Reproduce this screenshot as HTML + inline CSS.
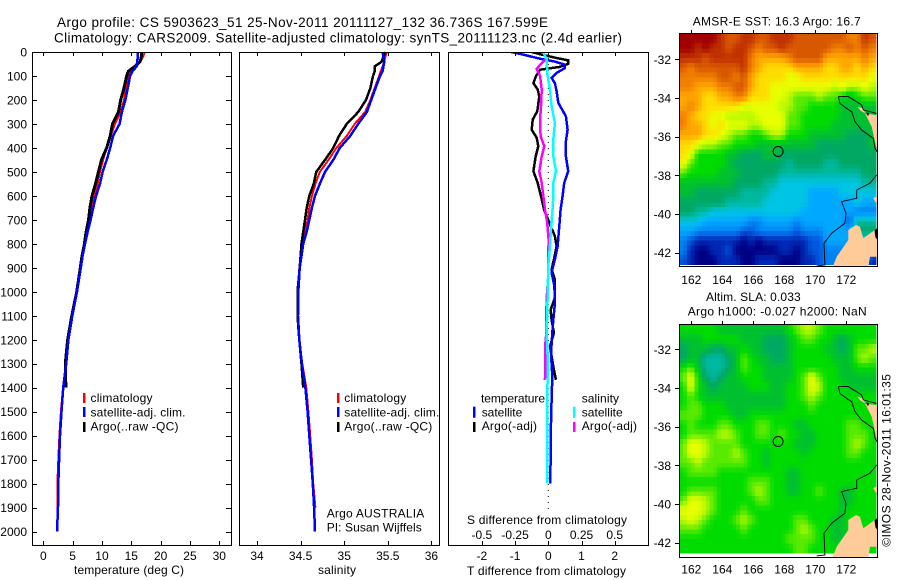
<!DOCTYPE html>
<html>
<head>
<meta charset="utf-8">
<title>Argo profile</title>
<style>
html,body{margin:0;padding:0;background:#fff;width:900px;height:580px;overflow:hidden}
svg{display:block}
text{font-family:"Liberation Sans",sans-serif;font-size:12px;fill:#000}
.t{font-size:13.5px}
</style>
</head>
<body>
<svg id="chart" xmlns="http://www.w3.org/2000/svg" width="900" height="580" viewBox="0 0 900 580">
<defs>
<clipPath id="clip3"><rect x="448" y="52" width="200" height="493"/></clipPath>
<clipPath id="clipSst"><rect x="679" y="34" width="198" height="233"/></clipPath>
<clipPath id="clipSla"><rect x="679" y="325" width="198" height="232"/></clipPath>
</defs>
<rect x="0" y="0" width="900" height="580" fill="#fff"/>
<g id="maps"></g>
<g id="panels"></g>

<text class="t" x="57" y="27" textLength="491">Argo profile: CS 5903623_51 25-Nov-2011 20111127_132 36.736S 167.599E</text>
<text class="t" x="54" y="42.5" textLength="568">Climatology: CARS2009. Satellite-adjusted climatology: synTS_20111123.nc (2.4d earlier)</text>

<text x="74" y="574" textLength="110">temperature (deg C)</text>
<text x="318" y="574" textLength="38">salinity</text>
<text x="467" y="575" textLength="159">T difference from climatology</text>
<text x="467" y="524" textLength="160">S difference from climatology</text>

<g>
<rect x="83" y="393" width="2.5" height="10" fill="#f00"/>
<rect x="83" y="407" width="2.5" height="10" fill="#00f"/>
<rect x="83" y="422" width="2.5" height="10" fill="#000"/>
<text x="90.5" y="402" textLength="62">climatology</text>
<text x="90.5" y="416.5" textLength="95">satellite-adj. clim.</text>
<text x="90.5" y="430.5" textLength="88">Argo(..raw -QC)</text>
</g>
<g>
<rect x="337" y="393" width="2.5" height="10" fill="#f00"/>
<rect x="337" y="407" width="2.5" height="10" fill="#00f"/>
<rect x="337" y="422" width="2.5" height="10" fill="#000"/>
<text x="344.3" y="402" textLength="62">climatology</text>
<text x="344.3" y="416.5" textLength="95">satellite-adj. clim.</text>
<text x="344.3" y="430.5" textLength="88">Argo(..raw -QC)</text>
</g>
<text x="326.7" y="517.3" textLength="97.6">Argo AUSTRALIA</text>
<text x="326.7" y="531.3" textLength="95">PI: Susan Wijffels</text>

<g>
<text x="481" y="402.3" textLength="64">temperature</text>
<text x="481.7" y="416.3" textLength="40.6">satellite</text>
<text x="481.7" y="430" textLength="55.3">Argo(-adj)</text>
<rect x="473" y="406.7" width="2.5" height="11" fill="#00f"/>
<rect x="473" y="422" width="2.5" height="10" fill="#000"/>
<text x="581.7" y="402.3" textLength="37.3">salinity</text>
<text x="581.7" y="416.3" textLength="41">satellite</text>
<text x="581.7" y="430" textLength="55.3">Argo(-adj)</text>
<rect x="573" y="406.7" width="2.5" height="11" fill="#0ff"/>
<rect x="573" y="422" width="2.5" height="10" fill="#f0f"/>
</g>

<text x="692.7" y="25.3" textLength="168">AMSR-E SST: 16.3 Argo: 16.7</text>
<text x="706" y="301" textLength="94.7">Altim. SLA: 0.033</text>
<text x="687.7" y="315.3" textLength="179">Argo h1000: -0.027 h2000: NaN</text>
<text transform="translate(890.7 546.7) rotate(-90)" x="0" y="0" textLength="172.7">©IMOS 28-Nov-2011 16:01:35</text>
</svg>

<script>
// ---- profile data ----
const depths = [0,20,40,60,80,100,150,200,250,300,350,400,450,500,550,600,650,700,750,800,850,900,1000,1100,1200,1300,1400,1500,1600,1700,1800,1900,2000];
const climTemp = [17.3,17.0,16.6,15.6,15.05,14.5,14.1,13.75,13.2,12.2,11.5,10.8,10.2,9.66,9.26,8.75,8.35,7.95,7.55,7.0,6.6,6.25,5.65,4.9,4.2,3.85,3.35,3.0,2.75,2.55,2.4,2.45,null];
const adjTemp = [16.1,16.1,16.0,15.9,15.2,14.8,14.4,14.0,13.4,13.0,11.9,11.4,10.8,10.1,9.66,9.0,8.5,8.07,7.55,7.1,6.7,6.4,5.75,4.95,4.27,3.9,3.4,3.1,2.85,2.7,2.55,2.5,2.33];
const argoTemp = [16.8,16.7,16.5,15.6,14.5,14.2,13.75,13.2,12.8,11.8,11.4,10.8,9.9,9.4,8.9,8.3,7.95,7.7,7.3,7.0,6.6,6.3,5.7,4.85,4.15,3.75,3.85,null,null,null,null,null,null];
const climSal = [35.49,35.47,35.46,35.44,35.42,35.40,35.35,35.30,35.24,35.12,35.03,34.91,34.82,34.72,34.67,34.63,34.60,34.58,34.55,34.52,34.50,34.485,34.47,34.47,34.485,34.52,34.565,34.59,34.61,34.63,34.645,34.67,null];
const adjSal = [35.44,35.45,35.46,35.45,35.44,35.41,35.36,35.31,35.26,35.16,35.07,34.95,34.875,34.78,34.72,34.665,34.63,34.60,34.57,34.53,34.51,34.49,34.474,34.47,34.485,34.515,34.555,34.58,34.60,34.62,34.64,34.655,34.665];
const argoSal = [35.47,35.45,35.43,35.35,35.35,35.33,35.30,35.25,35.16,35.03,34.94,34.875,34.78,34.68,34.65,34.60,34.57,34.55,34.53,34.51,34.50,34.49,34.465,34.465,34.485,34.51,34.53,null,null,null,null,null,null];

const satTDepths = [0,8,28,40,53,67,87,108,130,164,212,268,324,380,435,497,546,601,657,726,810,865,920,976,1025,1048,1117,1172,1256,1353,1450,1548,1800];
const satTDiff = [-1.12,-.85,-.25,.2,.5,.5,.25,.1,.2,.25,.3,.53,.58,.52,.53,.6,.48,.43,.37,.33,.28,.2,.1,.18,.2,.2,.15,.12,.08,.12,.1,.08,.06];
const argoTDepths = [0,11,25,35,49,62,74,100,130,157,185,247,282,324,358,393,435,497,546,601,657,712,768,810,865,907,949,1025,1075,1117,1172,1228,1311,1367];
const argoTDiff = [-.5,-.2,.25,.6,.6,.35,-.25,-.37,-.45,-.32,-.27,-.33,-.47,-.5,-.35,-.3,-.38,-.45,-.32,-.22,-.13,.03,.2,.25,.17,.1,.2,.2,.07,.1,.17,.05,.15,.23];
const satSDepths = [0,32,87,157,226,296,365,435,497,546,601,657,740,810,890,1025,1172,1270,1800];
const satSDiff = [-.038,-.012,-.008,.012,.025,.05,.038,.038,.058,.038,.038,.032,.02,.012,0,-.005,-.012,-.005,-.008];
const argoSDepths = [32,70,100,157,226,282,351,393,435,497,546,601,657,712,782,865,949,1025,1100,1172,1215,1356,1367];
const argoSDiff = [-.025,-.088,-.062,-.05,-.055,-.062,-.058,-.03,-.05,-.068,-.05,-.038,-.025,-.008,.002,0,-.002,-.012,-.015,-.015,-.022,-.022,-.03];

// ---- tick labels ----
const depthTicks = [0,100,200,300,400,500,600,700,800,900,1000,1100,1200,1300,1400,1500,1600,1700,1800,1900,2000];
const tempTicks = [0,5,10,15,20,25,30];
const salTicks = [34,34.5,35,35.5,36];
const tDiffTicks = [-2,-1,0,1,2];
const sDiffTicks = [-0.5,-0.25,0,0.25,0.5];
const latTicks = [-32,-34,-36,-38,-40,-42];
const lonTicks = [162,164,166,168,170,172];

// ---- map data: colour-scale level per cell, north to south, west to east ----
const sstLevels = [
[18,18,18,18,18,17,16,16,17,17,16,16,17,17,17,16,16,16,16,16,16,16,15,15,17,16],
[18,18,17,18,17,17,16,17,17,16,15,16,16,17,16,16,16,16,16,16,15,15,16,15,16,15],
[17,17,17,16,17,17,17,17,17,15,14,14,14,14,15,16,16,16,16,14,14,14,14,14,15,14],
[16,15,16,16,16,16,16,16,17,15,14,13,13,13,13,14,14,14,14,13,13,14,14,13,14,13],
[15,15,15,15,15,16,16,15,16,14,13,13,13,13,12,12,13,13,13,13,13,13,13,13,13,12],
[15,15,14,14,14,15,15,16,16,14,13,13,12,12,12,12,12,12,12,12,11,12,11,11,12,11],
[14,14,14,13,13,14,14,15,15,13,13,13,12,12,11,10,10,10,11,10,10,9,8,9,10,10],
[14,15,14,13,13,13,13,13,12,12,12,12,12,11,11,10,10,9,9,9,9,8,8,8,8,8],
[15,14,13,13,12,12,11,11,11,11,12,12,12,12,10,10,9,9,9,9,9,8,8,8,8,8],
[15,14,14,13,12,13,12,12,12,11,11,12,12,12,10,10,9,9,9,9,8,8,8,8,8,8],
[14,14,14,13,13,12,11,10,10,9,9,10,11,11,9,9,9,8,8,8,8,8,7,7,7,8],
[13,13,12,11,11,10,10,9,9,9,8,8,8,8,8,8,8,8,7,7,7,7,7,7,7,8],
[13,12,9,9,9,9,8,8,7,7,7,8,8,7,7,7,7,7,7,7,7,7,7,7,7,7],
[12,10,9,9,9,9,8,7,7,7,7,7,7,7,6,7,7,7,7,6,6,7,7,7,7,7],
[10,9,9,9,9,8,8,8,7,7,7,7,7,6,6,6,6,6,6,6,6,6,6,6,7,7],
[8,8,8,8,8,8,8,7,7,7,7,6,6,5,5,5,5,5,5,5,5,5,5,5,6,6],
[8,8,7,7,7,7,7,7,6,6,6,6,5,5,5,5,5,4,4,4,4,5,5,5,5,5],
[7,7,7,7,7,7,6,6,6,6,6,5,5,5,5,5,5,4,4,4,4,4,4,5,4,4],
[7,7,6,6,5,5,5,5,5,5,5,5,5,5,5,5,4,4,4,4,4,4,4,3,3,3],
[5,5,5,4,4,4,4,4,4,3,3,4,4,4,4,3,4,4,4,4,4,4,2,6,6,6],
[4,4,3,3,3,3,3,3,2,2,3,3,3,3,3,2,3,3,3,4,4,4,4,7,7,7],
[3,2,1,1,1,1,1,1,0,1,0,1,1,1,1,1,1,2,2,4,4,4,4,4,4,4],
[3,1,0,0,1,1,2,0,0,0,0,0,0,1,1,0,1,2,2,3,3,3,3,3,3,3],
[2,1,0,0,0,1,1,1,0,0,1,1,1,0,0,0,1,1,2,3,3,3,3,3,3,1]
];
const slaLevels = [
[9,9,9,9,9,8,8,8,8,8,8,8,8,8,9,10,11,11,10,9,9,9,9,9,9,9],
[8,8,8,9,9,9,9,9,8,8,8,7,7,7,8,9,10,10,9,9,8,7,8,9,9,9],
[7,8,8,8,7,7,8,8,9,8,8,7,7,7,8,9,9,9,9,8,8,7,8,10,10,11],
[7,8,8,6,6,6,7,8,10,9,8,8,7,7,8,9,9,9,9,9,8,8,8,10,11,10],
[9,10,8,6,6,6,7,8,10,9,9,8,8,8,8,9,9,9,9,9,9,8,8,9,9,9],
[10,12,9,7,6,7,8,8,9,9,9,8,8,8,8,9,10,12,10,9,9,8,8,8,8,8],
[9,12,9,8,7,8,8,8,8,9,9,9,8,8,9,9,10,12,11,9,9,9,8,8,8,8],
[9,10,9,8,8,8,8,8,8,8,8,8,8,8,9,9,10,11,10,9,9,9,9,9,9,9],
[9,10,10,9,9,9,8,8,8,8,8,8,8,8,9,9,9,10,9,9,9,9,9,9,9,9],
[10,10,10,9,9,9,9,8,8,9,9,9,9,9,9,9,9,9,9,9,9,9,9,9,9,9],
[9,10,9,9,9,10,10,9,9,9,10,10,9,9,9,8,8,9,9,9,9,9,10,10,9,9],
[9,10,10,10,10,11,11,10,9,9,10,10,9,10,9,9,8,8,9,9,9,9,10,10,10,9],
[10,12,12,11,10,10,10,10,9,9,9,9,9,9,9,8,8,8,9,9,9,9,10,11,10,9],
[10,12,12,11,10,10,10,11,10,9,9,8,9,9,9,9,8,9,9,9,9,9,10,10,9,9],
[10,10,11,10,10,10,10,10,10,9,9,8,9,9,9,9,9,9,9,9,9,9,9,9,9,9],
[9,10,10,10,10,9,9,9,9,9,9,9,9,9,8,8,9,9,9,9,9,9,9,9,9,9],
[9,9,9,9,9,9,9,9,9,10,10,10,9,9,8,8,9,9,9,9,9,9,9,9,9,9],
[9,10,10,10,10,9,9,9,9,10,11,10,9,9,8,8,9,9,10,9,9,8,8,9,9,9],
[10,12,12,11,10,9,9,9,9,9,10,10,9,9,9,9,9,9,9,9,9,8,8,9,9,9],
[12,12,12,11,10,9,9,9,10,9,9,9,9,9,9,9,9,9,9,9,9,8,9,9,9,9],
[11,12,11,10,9,9,9,10,11,10,9,9,9,9,9,10,10,9,9,9,8,8,9,9,9,9],
[10,10,10,9,9,9,9,9,10,9,9,9,9,9,9,10,11,10,9,9,8,8,9,9,9,9],
[9,9,9,9,9,9,9,9,9,9,9,9,9,9,10,10,10,10,9,9,8,8,8,9,9,9],
[9,9,9,9,9,9,9,9,9,9,9,9,9,9,9,10,10,9,9,9,9,9,9,9,9,9]
];
const levelColors = ["#000084","#0028b4","#0058dc","#0084f4","#00a8ff","#00c4e4","#00b8a0","#00a864","#00c030","#00dc00","#58ea00","#b8f800","#e8ff00","#ffdc00","#ffa800","#f08000","#d85800","#c03000","#a00000"];

// ---- coast geometry as [lon, lat] ----
const coastA = [[171.49,-33.93],[171.59,-34.28],[172.02,-34.54],[172.35,-34.71],[172.56,-35.23],[172.99,-35.66],[173.74,-36.09],[173.85,-36.6],[174,-36.78]];
const coastA2 = [[171.49,-33.93],[172.13,-33.93],[172.99,-34.36],[173.1,-34.62],[173.96,-34.8]];
const coastB = [[170.09,-42.69],[170.62,-42.64],[170.56,-41.52],[171.05,-41],[171.91,-40.48],[171.98,-39.97],[171.7,-39.36],[172.67,-39.19],[172.67,-38.76],[173.53,-38.41],[173.96,-37.98]];
const landSouth = [[171.12,-42.75],[171.38,-42.21],[172.13,-41.35],[172.13,-40.83],[172.63,-40.57],[172.88,-40.66],[173.1,-41.26],[174,-40.74],[174,-42.21],[173.53,-42.21],[173.42,-42.75]];
const landEast = [[173.21,-34.8],[174,-34.9],[174,-36.78],[173.64,-35.48],[173.42,-35.14]];
const landIsland = [[172.71,-34.45],[173.1,-34.54],[173.21,-34.8],[172.93,-34.66]];
const landSmall = [[173.74,-39.19],[174,-39.07],[174,-39.54]];
const darkBitA = [[173.82,-40.85],[174,-40.74],[174,-41.35],[173.88,-41.2]];
const darkBitB = [[173.27,-34.76],[173.5,-34.76],[173.4,-34.95]];
const argoPosition = [167.6,-36.77];

// ---- helpers ----
const NS = "http://www.w3.org/2000/svg";
const panels = document.getElementById("panels");
const maps = document.getElementById("maps");
function mk(tag, parent, attrs) {
  const el = document.createElementNS(NS, tag);
  for (const k in attrs) el.setAttribute(k, attrs[k]);
  parent.appendChild(el);
  return el;
}
function yDepth(d) { return 52 + d * 0.2398; }
function xTemp(v) { return 43.3 + v * 5.867; }
function xSal(v) { return 257 + (v - 34) * 87.2; }
function xT(v) { return 548.3 + v * 33.2; }
function xS(v) { return 548.3 + v * 132.8; }
function linePoints(xf, ds, vs) {
  const p = [];
  for (let i = 0; i < vs.length; i++) {
    if (vs[i] === null) continue;
    p.push(xf(vs[i]).toFixed(1) + "," + yDepth(ds[i]).toFixed(1));
  }
  return p.join(" ");
}
function series(xf, ds, vs, color, w, name, clip) {
  const el = mk("polyline", panels, {points: linePoints(xf, ds, vs), fill: "none", stroke: color, "stroke-width": w, "shape-rendering": "crispEdges"});
  if (clip) el.setAttribute("clip-path", "url(#clip3)");
  
  
}
function label(parent, x, y, txt, anchor, name) {
  const el = mk("text", parent, {x: x, y: y, "text-anchor": anchor});
  el.textContent = txt;
  
  
}
function tick(parent, x1, y1, x2, y2) {
  const el = mk("line", parent, {x1: x1, y1: y1, x2: x2, y2: y2, stroke: "#000", "stroke-width": 1, "shape-rendering": "crispEdges"});
  
  
}
function frame(x, w) {
  const el = mk("rect", panels, {x: x, y: 52.5, width: w, height: 493, fill: "none", stroke: "#000", "stroke-width": 1, "shape-rendering": "crispEdges"});
  
  
}

// ---- profile series ----
series(xTemp, depths, climTemp, "#f00", 2, "temperature-climatology-line");
series(xTemp, depths, argoTemp, "#000", 3, "temperature-argo-line");
series(xTemp, depths, adjTemp, "#00f", 2.5, "temperature-satellite-adj-line");
series(xSal, depths, climSal, "#f00", 2, "salinity-climatology-line");
series(xSal, depths, argoSal, "#000", 2.5, "salinity-argo-line");
series(xSal, depths, adjSal, "#00f", 2.5, "salinity-satellite-adj-line");

// zero line on difference panel
const zeroLine = mk("line", panels, {x1: xT(0), y1: 52, x2: xT(0), y2: 512, stroke: "#000", "stroke-width": 1, "stroke-dasharray": "1 5"});


series(xT, argoTDepths, argoTDiff, "#000", 2.5, "t-difference-argo-line", true);
series(xT, satTDepths, satTDiff, "#00f", 2.5, "t-difference-satellite-line", true);
series(xS, argoSDepths, argoSDiff, "#f0f", 2.5, "s-difference-argo-line", true);
series(xS, satSDepths, satSDiff, "#0ff", 2.5, "s-difference-satellite-line", true);

// ---- frames and ticks ----
frame(32.5, 199);
frame(239.5, 200);
frame(448.5, 200);

depthTicks.forEach(function (d) {
  const y = Math.round(yDepth(d)) + 0.5;
  if (d > 0) {
    tick(panels, 32, y, 37, y);
    tick(panels, 226, y, 231, y);
  }
  label(panels, 27, yDepth(d) + 4.5, String(d), "end", "depth-tick-label");
});
tempTicks.forEach(function (v) {
  const x = Math.round(xTemp(v)) + 0.5;
  tick(panels, x, 52, x, 56);
  tick(panels, x, 541, x, 545);
  label(panels, xTemp(v), 560, String(v), "middle", "temperature-tick-label");
});
salTicks.forEach(function (v) {
  const x = Math.round(xSal(v)) + 0.5;
  tick(panels, x, 52, x, 56);
  tick(panels, x, 541, x, 545);
  label(panels, xSal(v), 560, String(v), "middle", "salinity-tick-label");
});
tDiffTicks.forEach(function (v) {
  const x = Math.round(xT(v)) + 0.5;
  tick(panels, x, 52, x, 56);
  tick(panels, x, 541, x, 545);
  label(panels, xT(v), 560, String(v), "middle", "t-difference-tick-label");
});
sDiffTicks.forEach(function (v) {
  label(panels, xS(v), 539, String(v), "middle", "s-difference-tick-label");
});

// ---- maps ----
function xLon(lon) { return 691.3 + (lon - 162) * 15.5; }
function hexChannel(hex, i) { return parseInt(hex.substr(1 + i * 2, 2), 16); }
function levelColor(v) {
  const lo = Math.max(0, Math.min(levelColors.length - 1, Math.floor(v)));
  const hi = Math.min(levelColors.length - 1, lo + 1);
  const f = Math.max(0, Math.min(1, v - lo));
  const ch = [0, 1, 2].map(function (i) {
    return Math.round(hexChannel(levelColors[lo], i) * (1 - f) + hexChannel(levelColors[hi], i) * f);
  });
  return "rgb(" + ch.join(",") + ")";
}
// each level reading covers two display cells; display cells are shaded from neighbouring readings
function sampleLevel(levels, r, c) {
  const nr = levels.length, nc = levels[0].length;
  const fr = Math.max(0, Math.min(nr - 1, (r + 0.5) / 2 - 0.5));
  const fc = Math.max(0, Math.min(nc - 1, (c + 0.5) / 2 - 0.5));
  const r0 = Math.floor(fr), c0 = Math.floor(fc);
  const r1 = Math.min(nr - 1, r0 + 1), c1 = Math.min(nc - 1, c0 + 1);
  const dr = fr - r0, dc = fc - c0;
  return levels[r0][c0] * (1 - dr) * (1 - dc) + levels[r0][c1] * (1 - dr) * dc + levels[r1][c0] * dr * (1 - dc) + levels[r1][c1] * dr * dc;
}
function drawMap(levels, latAt32, lat0, dLat, clipId, name, bottomPad, labelGap) {
  const yLat = function (lat) { return latAt32 + (-32 - lat) * 19.33; };
  const lon0 = 161.23, dLon = 0.4885 / 2, dL = dLat / 2;
  const g = mk("g", maps, {});
  
  
  const rows = levels.length * 2, cols = levels[0].length * 2;
  for (let r = 0; r < rows; r++) {
    for (let c = 0; c < cols; c++) {
      const x0 = xLon(lon0 + c * dLon), x1 = xLon(lon0 + (c + 1) * dLon);
      const y0 = yLat(lat0 - r * dL), y1 = yLat(lat0 - (r + 1) * dL);
      const cell = mk("rect", g, {x: x0.toFixed(2), y: y0.toFixed(2), width: (x1 - x0 + 0.3).toFixed(2), height: (y1 - y0 + 0.3).toFixed(2), fill: levelColor(sampleLevel(levels, r, c)), "shape-rendering": "crispEdges"});
      
      
    }
  }
  const pts = function (arr) {
    return arr.map(function (p) { return xLon(p[0]).toFixed(1) + "," + yLat(p[1]).toFixed(1); }).join(" ");
  };
  const clipG = mk("g", g, {"clip-path": "url(#" + clipId + ")"});
  
  
  [landSouth, landEast, landIsland, landSmall].forEach(function (a) {
    const land = mk("polygon", clipG, {points: pts(a), fill: "#ffcc99", stroke: "none"});
    
    
  });
  [darkBitA, darkBitB].forEach(function (a) {
    const bit = mk("polygon", clipG, {points: pts(a), fill: "#000"});
    
    
  });
  [coastA, coastA2, coastB].forEach(function (a) {
    const coast = mk("polyline", clipG, {points: pts(a), fill: "none", stroke: "#000", "stroke-width": 0.9});
    
    
  });
  const marker = mk("circle", g, {cx: xLon(argoPosition[0]), cy: yLat(argoPosition[1]), r: 5, fill: "none", stroke: "#000", "stroke-width": 1});
  
  
  const top = yLat(lat0), bottom = yLat(lat0 - levels.length * dLat) + bottomPad;
  const box = mk("rect", g, {x: 679.5, y: Math.round(top) - 0.5, width: 198, height: Math.round(bottom - top), fill: "none", stroke: "#000", "stroke-width": 1, "shape-rendering": "crispEdges"});
  
  
  latTicks.forEach(function (lat) {
    const y = Math.round(yLat(lat)) + 0.5;
    tick(g, 675, y, 679, y);
    label(g, 671, yLat(lat) + 4.5, "-" + Math.abs(lat), "end", "latitude-tick-label");
  });
  lonTicks.forEach(function (lon) {
    const x = Math.round(xLon(lon)) + 0.5;
    tick(g, x, top - 4, x, top);
    label(g, xLon(lon), bottom + labelGap, String(lon), "middle", "longitude-tick-label");
  });
}
drawMap(sstLevels, 59.3, -30.69, 0.4975, "clipSst", "sst-map", 2.2, 17);
drawMap(slaLevels, 349.3, -30.74, 0.4917, "clipSla", "sla-map", 4.4, 16);
</script>
</body>
</html>
